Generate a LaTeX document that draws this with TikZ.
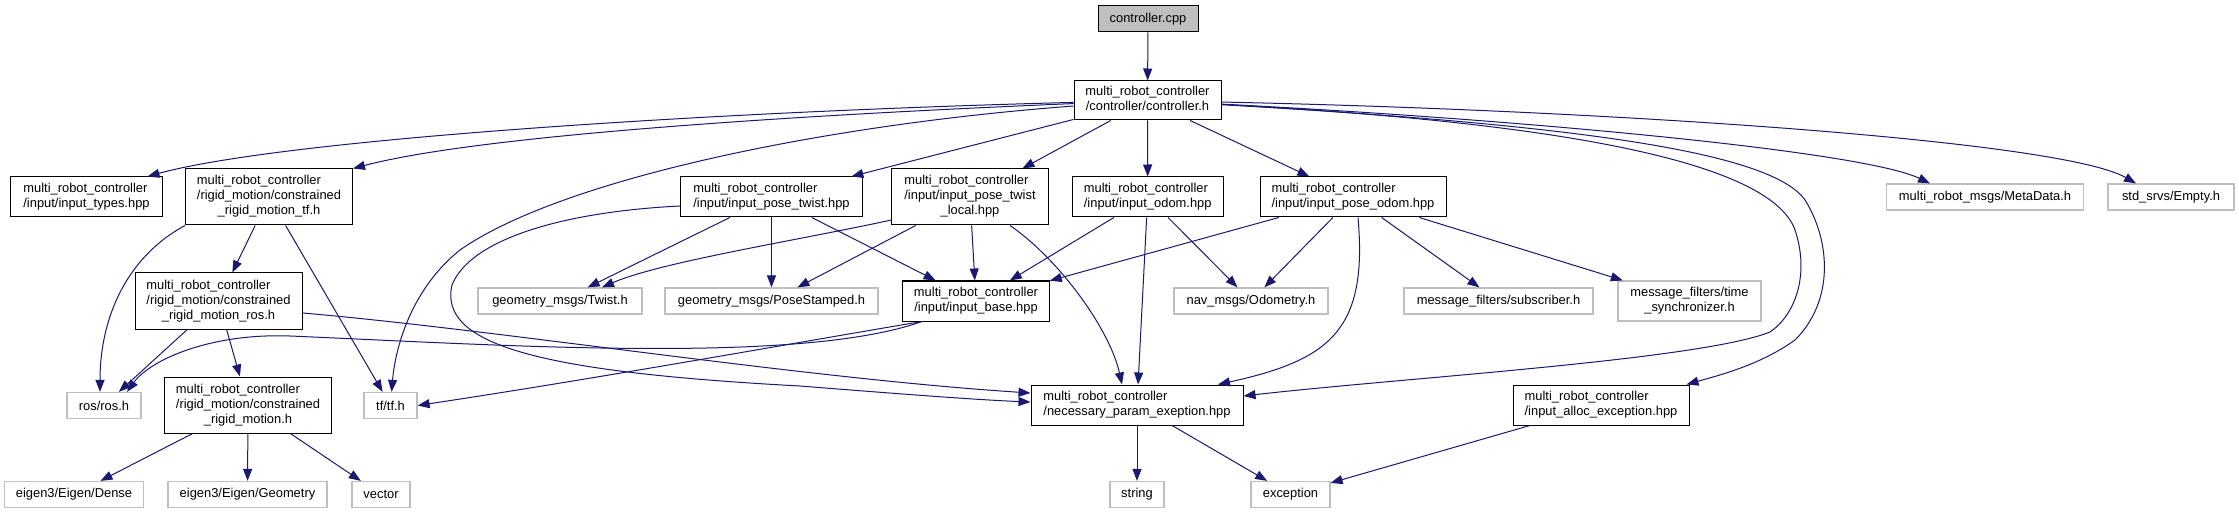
\documentclass[tikz,border=0pt]{standalone}
\usepackage{fontspec}
\setmainfont{Liberation Sans}
\usetikzlibrary{arrows.meta}
\definecolor{edgeblue}{HTML}{191970}
\definecolor{greyseventyfive}{HTML}{BFBFBF}
\newcommand{\fsz}{\fontsize{12.9}{15}\selectfont}
\newcommand{\twol}[2]{\begin{tabular}{@{}l@{}}#1\\\multicolumn{1}{@{}c@{}}{#2}\end{tabular}}
\newcommand{\threel}[3]{\begin{tabular}{@{}l@{}}#1\\#2\\\multicolumn{1}{@{}c@{}}{#3}\end{tabular}}
\tikzset{
  box/.style={draw=black, fill=white, line width=1pt, inner sep=0pt, font=\fsz},
  rootbox/.style={box, fill=greyseventyfive},
  sys/.style={draw=greyseventyfive, fill=white, line width=1.2pt, inner sep=0pt, font=\fsz},
  dep/.style={draw=edgeblue, line width=1pt, -{Triangle[length=12pt,width=9pt]}},
}
\begin{document}
\begin{tikzpicture}[x=1pt,y=-1pt]
\useasboundingbox (0,0) rectangle (2239,513);
\fill[white] (0,0) rectangle (2239,513);
% row 1
\node[rootbox, minimum width=100pt, minimum height=26pt] (cpp) at (1148,19) {controller.cpp};
% row 2
\node[box, minimum width=147pt, minimum height=39pt] (ctrlh) at (1147.5,100.5) {\twol{multi\_robot\_controller}{/controller/controller.h}};
% row 3
\node[box, minimum width=152pt, minimum height=40pt] (types) at (86.5,197) {\twol{multi\_robot\_controller}{/input/input\_types.hpp}};
\node[box, minimum width=167pt, minimum height=56pt] (rtf) at (269,197) {\threel{multi\_robot\_controller}{/rigid\_motion/constrained}{\_rigid\_motion\_tf.h}};
\node[box, minimum width=182pt, minimum height=40pt] (ptw) at (771.5,197) {\twol{multi\_robot\_controller}{/input/input\_pose\_twist.hpp}};
\node[box, minimum width=156.5pt, minimum height=56pt] (ptwl) at (970,197) {\threel{multi\_robot\_controller}{/input/input\_pose\_twist}{\_local.hpp}};
\node[box, minimum width=151pt, minimum height=40pt] (odom) at (1147.7,197) {\twol{multi\_robot\_controller}{/input/input\_odom.hpp}};
\node[box, minimum width=186pt, minimum height=40pt] (podom) at (1353,197) {\twol{multi\_robot\_controller}{/input/input\_pose\_odom.hpp}};
\node[sys, minimum width=197pt, minimum height=26pt] (meta) at (1985,197) {multi\_robot\_msgs/MetaData.h};
\node[sys, minimum width=126pt, minimum height=26pt] (empty) at (2171,197) {std\_srvs/Empty.h};
% row 4
\node[box, minimum width=167pt, minimum height=56pt] (rros) at (218.5,301) {\threel{multi\_robot\_controller}{/rigid\_motion/constrained}{\_rigid\_motion\_ros.h}};
\node[sys, minimum width=164pt, minimum height=26pt] (twist) at (560,301) {geometry\_msgs/Twist.h};
\node[sys, minimum width=213pt, minimum height=26pt] (pose) at (771.5,301) {geometry\_msgs/PoseStamped.h};
\node[box, minimum width=146.5pt, minimum height=40pt] (base) at (976,301) {\twol{multi\_robot\_controller}{/input/input\_base.hpp}};
\node[sys, minimum width=154pt, minimum height=26pt] (navodom) at (1251,301) {nav\_msgs/Odometry.h};
\node[sys, minimum width=189pt, minimum height=26pt] (sub) at (1498.5,301) {message\_filters/subscriber.h};
\node[sys, minimum width=143pt, minimum height=40pt] (tsync) at (1689.5,301) {\twol{message\_filters/time}{\_synchronizer.h}};
% row 5
\node[sys, minimum width=74pt, minimum height=26pt] (ros) at (104,405.5) {ros/ros.h};
\node[box, minimum width=166.5pt, minimum height=56pt] (rmh) at (248,405) {\threel{multi\_robot\_controller}{/rigid\_motion/constrained}{\_rigid\_motion.h}};
\node[sys, minimum width=53pt, minimum height=26pt] (tf) at (390.5,405.5) {tf/tf.h};
\node[box, minimum width=212pt, minimum height=40pt] (nec) at (1137,405) {\twol{multi\_robot\_controller}{/necessary\_param\_exeption.hpp}};
\node[box, minimum width=176pt, minimum height=40pt] (alloc) at (1601,405) {\twol{multi\_robot\_controller}{/input\_alloc\_exception.hpp}};
% row 6
\node[sys, minimum width=139pt, minimum height=26pt] (dense) at (74,494.5) {eigen3/Eigen/Dense};
\node[sys, minimum width=159pt, minimum height=26pt] (geom) at (247.5,494.5) {eigen3/Eigen/Geometry};
\node[sys, minimum width=58pt, minimum height=26pt] (vector) at (381,494.5) {vector};
\node[sys, minimum width=54pt, minimum height=26pt] (string) at (1137,494.5) {string};
\node[sys, minimum width=79pt, minimum height=26pt] (exc) at (1290.5,494.5) {exception};

% edges from controller.cpp / controller.h
\draw[dep] (cpp) -- (ctrlh);
\draw[dep] (ctrlh) .. controls (700,112) and (280,140) .. ([xshift=61pt]types.north);
\draw[dep] (ctrlh) .. controls (800,115) and (480,135) .. (rtf.north east);
\draw[dep] (ctrlh) .. controls (820,125) and (560,180) .. (460,250) .. controls (410,290) and (395,350) .. (tf);
\draw[dep] (ctrlh) -- (ptw);
\draw[dep] (ctrlh) -- (ptwl);
\draw[dep] (ctrlh) -- (odom);
\draw[dep] (ctrlh) -- (podom);
\draw[dep] (ctrlh) .. controls (1500,118) and (1860,150) .. ([xshift=-55pt]meta.north);
\draw[dep] (ctrlh) .. controls (1600,110) and (2060,140) .. ([xshift=-35pt]empty.north);
\draw[dep] (ctrlh) .. controls (1550,122) and (1770,160) .. (1795,230) .. controls (1810,275) and (1795,315) .. (1770,332) .. controls (1700,360) and (1400,378) .. ([yshift=9pt]nec.east);
\draw[dep] (ctrlh) .. controls (1560,124) and (1770,150) .. (1805,200) .. controls (1830,240) and (1835,300) .. (1795,340) .. controls (1760,365) and (1720,375) .. ([xshift=-3pt]alloc.north east);
% input_pose_twist
\draw[dep] (ptw) -- (twist);
\draw[dep] (ptw) -- (pose);
\draw[dep] (ptw) -- (base);
\draw[dep] ([yshift=-9pt]ptw.west) .. controls (560,212) and (470,240) .. (452,285) .. controls (438,345) and (540,372) .. (800,386) .. controls (900,394) and (980,400) .. ([yshift=3pt]nec.west);
% input_pose_twist_local
\draw[dep] ([yshift=-23pt]ptwl.west) .. controls (800,240) and (660,262) .. ([xshift=42pt]twist.north);
\draw[dep] (ptwl) -- (pose);
\draw[dep] (ptwl) -- (base);
\draw[dep] ([xshift=40pt]ptwl.south) .. controls (1060,260) and (1110,330) .. ([xshift=-15pt]nec.north);
% input_odom
\draw[dep] (odom) -- (base);
\draw[dep] (odom) -- (nec);
\draw[dep] (odom) -- (navodom);
% input_pose_odom
\draw[dep] (podom) -- (base);
\draw[dep] (podom) -- (navodom);
\draw[dep] ([xshift=5pt]podom.south) .. controls (1368,330) and (1330,360) .. ([xshift=81pt]nec.north);
\draw[dep] (podom) -- (sub);
\draw[dep] (podom) -- (tsync);
% input_base
\draw[dep] ([xshift=-54pt]base.south) .. controls (800,365) and (500,345) .. (290,336) .. controls (210,333) and (150,360) .. ([xshift=23pt]ros.north);
\draw[dep] ([xshift=-54pt]base.south) .. controls (800,342) and (600,378) .. (tf.east);
% rigid motion tf
\draw[dep] (rtf.south west) .. controls (125,258) and (100,320) .. ([xshift=-4pt]ros.north);
\draw[dep] (rtf) -- (rros);
\draw[dep] (rtf) -- (tf);
% rigid motion ros
\draw[dep] (rros) -- (ros);
\draw[dep] (rros) -- (rmh);
\draw[dep] ([yshift=-12pt]rros.east) .. controls (500,330) and (800,378) .. ([yshift=12pt]nec.west);
% rigid motion
\draw[dep] (rmh) -- (dense);
\draw[dep] (rmh) -- (geom);
\draw[dep] (rmh) -- (vector);
% exceptions
\draw[dep] (nec) -- (string);
\draw[dep] (nec) -- (exc);
\draw[dep] (alloc) -- (exc);
\end{tikzpicture}
\end{document}
